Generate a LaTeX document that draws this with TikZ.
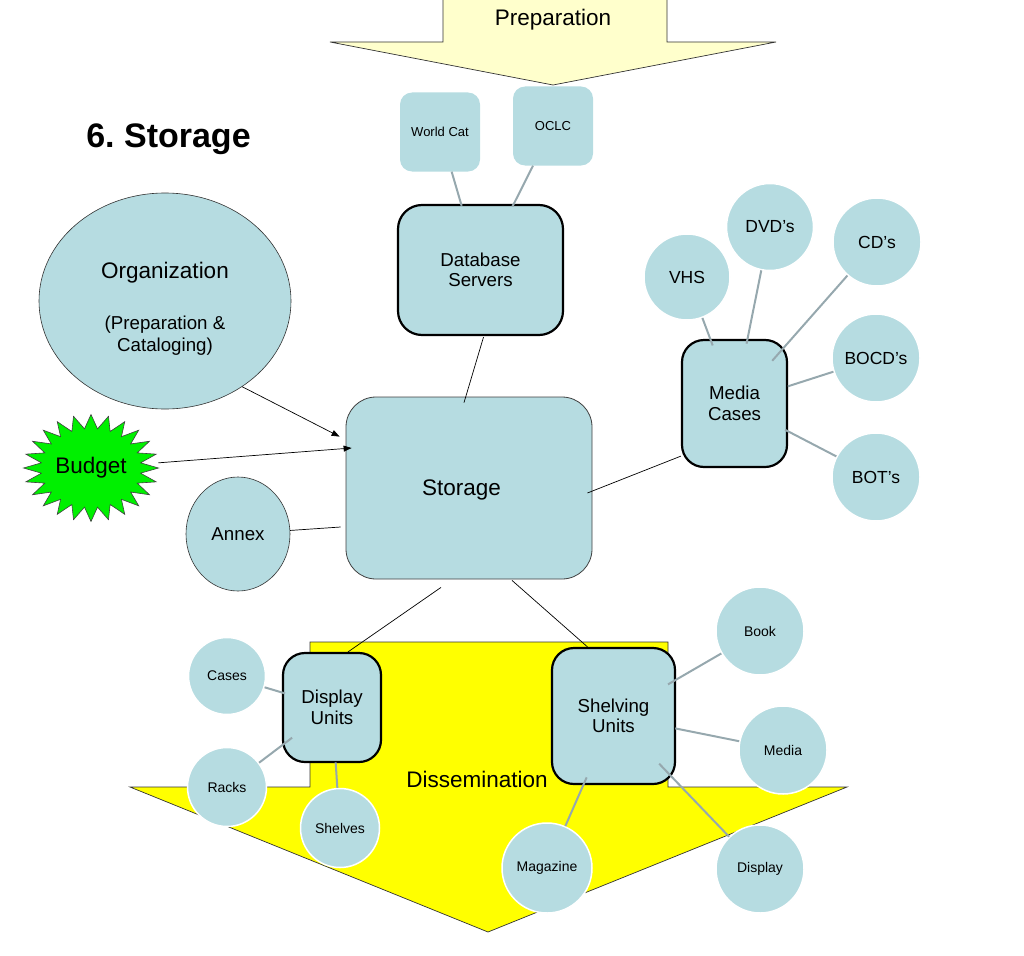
\documentclass[tikz,border=0pt]{standalone}
\usepackage{fontspec}
\setmainfont{Liberation Sans}
\usetikzlibrary{arrows.meta,shapes.geometric,calc}
\frenchspacing
\definecolor{lb}{RGB}{182,220,225}
\definecolor{pale}{RGB}{255,255,204}
\definecolor{conn}{RGB}{150,168,174}
\definecolor{brightgreen}{RGB}{0,240,0}
\definecolor{brightyellow}{RGB}{255,255,0}
\tikzset{
  fa/.style={font=\fontsize{13}{15}\selectfont},
  fb/.style={font=\fontsize{14}{16}\selectfont},
  fc/.style={font=\fontsize{18.7}{20.5}\selectfont},
  fcc/.style={font=\fontsize{17.5}{20}\selectfont},
  fd/.style={font=\fontsize{22.5}{25}\selectfont},
  box/.style={rectangle, rounded corners=22pt, draw=black, line width=2.2pt, fill=lb, align=center, inner sep=0pt},
  softbox/.style={rectangle, rounded corners=12pt, fill=lb, align=center, inner sep=0pt},
  bub/.style={circle, fill=lb, draw=white, line width=1.5pt, inner sep=0pt, align=center},
  leaf/.style={draw=conn, line width=2pt},
  link/.style={draw=black, line width=0.7pt},
  tip/.style={-{Triangle[length=8pt,width=6pt]}},
}
\begin{document}
\begin{tikzpicture}[x=1pt,y=-1pt]
\useasboundingbox (0,0) rectangle (1024,955);
% Preparation arrow
\fill[pale] (443,-1) -- (443,42) -- (330,42) -- (553,85) -- (776,42) -- (667,42) -- (667,-1) -- cycle;
\draw[black!80, line width=0.7pt] (443,-1) -- (443,42) -- (330,42) -- (553,85) -- (776,42) -- (667,42) -- (667,-1);
\node[fd, anchor=base] (prep) at (553,26) {Preparation};
% Dissemination arrow
\draw[fill=brightyellow, draw=black!80, line width=0.7pt] (310,642) -- (668,642) -- (668,787) -- (847,787) -- (488,932) -- (130,787) -- (310,787) -- cycle;
\node[fd, anchor=base] (diss) at (477,787) {Dissemination};
% Title
\node[font=\bfseries\fontsize{34}{40}\selectfont, anchor=base] (title) at (168.5,147) {6. Storage};
% Top nodes
\node[softbox, fa, minimum width=80, minimum height=79] (wc) at (440,132) {World Cat};
\node[softbox, fa, minimum width=80, minimum height=79] (oclc) at (553,126) {OCLC};
\node[box, fc, rounded corners=24pt, minimum width=165, minimum height=130] (db) at (480.5,270) {Database\\Servers};
% Storage
\node[rectangle, rounded corners=30pt, draw=black!75, line width=0.8pt, fill=lb, minimum width=246, minimum height=182] (st) at (469,488) {};
\node[fd] (stt) at (461.5,490) {Storage};
% Organization
\node[ellipse, draw=black!80, line width=0.6pt, fill=lb, minimum width=252, minimum height=216] (org) at (165,301) {};
\node[fd, anchor=base] (orgt1) at (165,278) {Organization};
\node[fc, anchor=base] (orgt2) at (165,329) {(Preparation \&};
\node[fc, anchor=base] (orgt3) at (165,351) {Cataloging)};
% Budget
\begin{scope}[shift={(91,468)}]
\draw[fill=brightgreen, draw=black!75, line width=0.6pt] (0:67.5 and 53.5)
  \foreach \i in {0,...,23} { -- ({\i*15+7.5}:50 and 39.5) -- ({\i*15+15}:67.5 and 53.5) } -- cycle;
\end{scope}
\node[ellipse, fd, minimum width=135, minimum height=107, inner sep=0pt] (budget) at (91,468) {Budget};
% Annex
\node[ellipse, draw=black!80, line width=0.6pt, fill=lb, fc, minimum width=104, minimum height=114, inner sep=0pt] (annex) at (238,534) {Annex};
% Media cases
\node[box, fc, minimum width=105, minimum height=127] (mc) at (734.5,403.5) {Media\\Cases};
\node[bub, fcc, minimum size=86] (vhs) at (687,277) {VHS};
\node[bub, fcc, minimum size=87] (dvd) at (770,227) {DVD’s};
\node[bub, fcc, minimum size=88] (cd) at (877,242) {CD’s};
\node[bub, fcc, minimum size=88] (bocd) at (876,358) {BOCD’s};
\node[bub, fcc, minimum size=88] (bot) at (876,477) {BOT’s};
% Display units
\node[box, fc, minimum width=98, minimum height=109] (du) at (332,707.5) {Display\\Units};
\node[bub, fb, minimum size=77] (cases) at (227,676) {Cases};
\node[bub, fb, minimum size=79] (racks) at (227,787) {Racks};
\node[bub, fb, minimum size=79] (shelves) at (340,828) {Shelves};
% Shelving units
\node[box, fc, minimum width=123, minimum height=136] (su) at (613.5,716) {Shelving\\Units};
\node[bub, fb, minimum size=88] (book) at (760,631) {Book};
\node[bub, fb, minimum size=88] (media) at (783,750) {Media};
\node[bub, fb, minimum size=90] (magazine) at (547,868) {Magazine};
\node[bub, fb, minimum size=88] (display) at (760,869) {Display};
% Grey connectors
\draw[leaf] (wc) -- ($(db.center)!67pt!(wc.center)$);
\draw[leaf] (oclc) -- ($(db.center)!71pt!(oclc.center)$);
\draw[leaf] (vhs) -- ($(mc.center)!62pt!(vhs.center)$);
\draw[leaf] (dvd) -- ($(mc.center)!61pt!(dvd.center)$);
\draw[leaf] (cd) -- ($(mc.center)!57pt!(cd.center)$);
\draw[leaf] (bocd) -- ($(mc.center)!56pt!(bocd.center)$);
\draw[leaf] (bot) -- ($(mc.center)!57pt!(bot.center)$);
\draw[leaf] (cases) -- ($(du.center)!49pt!(cases.center)$);
\draw[leaf] (racks) -- ($(du.center)!50pt!(racks.center)$);
\draw[leaf] (shelves) -- ($(du.center)!55pt!(shelves.center)$);
\draw[leaf] (book) -- ($(su.center)!63pt!(book.center)$);
\draw[leaf] (media) -- ($(su.center)!63pt!(media.center)$);
\draw[leaf] (display) -- ($(su.center)!66pt!(display.center)$);
\draw[leaf] (magazine) -- ($(su.center)!67pt!(magazine.center)$);
% Black connectors
\draw[link] ($(db.south)+(3,1)$) -- ($(st.north)+(-5,6)$);
\draw[link, tip] (org.-48.6) -- ($(st.north west)+(-6,40)$);
\draw[link, tip] (budget) -- ($(st.west)+(6,-40)$);
\draw[link] (annex) -- ($(st.west)+(-5,39)$);
\draw[link] ($(st.east)+(-5,5)$) -- ($(mc.south west)+(0,-12)$);
\draw[link] ($(st.south)+(-28,8)$) -- ($(du.north)+(16,0)$);
\draw[link] ($(st.south)+(43,1)$) -- ($(su.north)+(-26,0)$);
\end{tikzpicture}
\end{document}
